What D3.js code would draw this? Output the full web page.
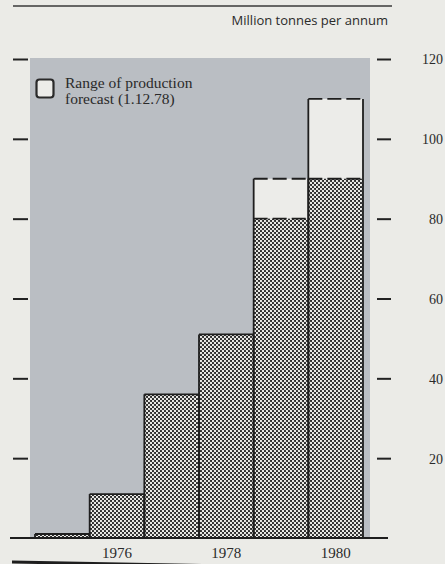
<!DOCTYPE html>
<html>
<head>
<meta charset="utf-8">
<script src="https://cdn.jsdelivr.net/npm/d3@7"></script>
<style>
  body { margin: 0; background: #ebebe7; }
  svg { display: block; }
</style>
</head>
<body>
<script>
const years = ['1975', '1976', '1977', '1978', '1979', '1980']
const production = [1, 11, 36, 51, 80, 90]
const forecastHigh = [null, null, null, null, 90, 110]
const yearLabels = ['1976', '1978', '1980']
const yTicks = [20, 40, 60, 80, 100, 120]
const legendLines = ['Range of production', 'forecast (1.12.78)']

const w = 445
const h = 564

const svg = d3.select('body')
    .append('svg')
    .attr('width', w)
    .attr('height', h)

// crosshatch fill
const pat = svg.append('defs')
    .append('pattern')
    .attr('id', 'hatch')
    .attr('width', 4)
    .attr('height', 4)
    .attr('patternUnits', 'userSpaceOnUse')
pat.append('rect').attr('width', 4).attr('height', 4).attr('fill', '#2b2b2b')
pat.append('circle').attr('cx', 1).attr('cy', 1).attr('r', 1.15).attr('fill', '#f2f2ee')
pat.append('circle').attr('cx', 3).attr('cy', 3).attr('r', 1.15).attr('fill', '#f2f2ee')

const x = d3.scaleBand()
    .domain(years)
    .range([35, 363])
    .padding(0)

const y = d3.scaleLinear()
    .domain([0, 120])
    .range([538, 59])

// header
svg.append('line')
    .attr('x1', 13).attr('x2', 392)
    .attr('y1', 6).attr('y2', 6)
    .attr('stroke', '#3a3a3a')
    .attr('stroke-width', 1.6)

svg.append('text')
    .attr('x', 388)
    .attr('y', 25)
    .attr('text-anchor', 'end')
    .style('font-family', '"Open Sans", sans-serif')
    .style('font-size', '13px')
    .attr('fill', '#2a2a2a')
    .text('Million tonnes per annum')

// grey panel
svg.append('rect')
    .attr('x', 30)
    .attr('y', y(120) - 1)
    .attr('width', 340)
    .attr('height', y(0) - y(120) + 1)
    .attr('fill', '#babec3')

// axes (ticks only)
const leftAxis = d3.axisLeft(y).tickValues(yTicks).tickSize(15).tickFormat('')
const rightAxis = d3.axisRight(y).tickValues(yTicks).tickSize(14)

svg.append('g')
    .attr('transform', 'translate(28, 0)')
    .call(leftAxis)
    .call(g => g.select('.domain').remove())
    .call(g => g.selectAll('line').attr('stroke', '#222').attr('stroke-width', 2))

svg.append('g')
    .attr('transform', 'translate(377, 0)')
    .call(rightAxis)
    .call(g => g.select('.domain').remove())
    .call(g => g.selectAll('line').attr('stroke', '#222').attr('stroke-width', 2))
    .call(g => g.selectAll('text')
        .attr('x', 66)
        .attr('dy', '0.35em')
        .attr('text-anchor', 'end')
        .attr('fill', '#2a2a2a')
        .style('font-family', '"Liberation Serif", serif')
        .style('font-size', '14px'))

const data = years.map((yr, i) => ({ year: yr, value: production[i], high: forecastHigh[i] }))

// forecast range boxes
const fc = data.filter(d => d.high != null)

svg.selectAll('rect.forecast')
    .data(fc)
    .enter()
    .append('rect')
    .attr('class', 'forecast')
    .attr('x', d => x(d.year))
    .attr('y', d => y(d.high))
    .attr('width', x.bandwidth())
    .attr('height', d => y(d.value) - y(d.high))
    .attr('fill', '#ecece9')

// production bars
svg.selectAll('rect.bar')
    .data(data)
    .enter()
    .append('rect')
    .attr('class', 'bar')
    .attr('x', d => x(d.year))
    .attr('y', d => y(d.value))
    .attr('width', x.bandwidth())
    .attr('height', d => y(0) - y(d.value))
    .attr('fill', 'url(#hatch)')

// outlines: solid sides and tops, dashed where forecast
const outline = svg.append('g')
    .attr('stroke', '#1e1e1e')
    .attr('stroke-width', 1.8)
    .attr('fill', 'none')

data.forEach(d => {
    const x0 = x(d.year)
    const x1 = x0 + x.bandwidth()
    const top = d.high != null ? d.high : d.value
    outline.append('line')
        .attr('x1', x0).attr('x2', x0)
        .attr('y1', y(0)).attr('y2', y(top))
    outline.append('line')
        .attr('x1', x1).attr('x2', x1)
        .attr('y1', y(0)).attr('y2', y(top))
    outline.append('line')
        .attr('x1', x0).attr('x2', x1)
        .attr('y1', y(d.value)).attr('y2', y(d.value))
        .attr('stroke-dasharray', d.high != null ? '14 5' : null)
    if (d.high != null) {
        outline.append('line')
            .attr('x1', x0).attr('x2', x1)
            .attr('y1', y(d.high)).attr('y2', y(d.high))
            .attr('stroke-dasharray', '14 5')
    }
})

// baseline
svg.append('line')
    .attr('x1', 10).attr('x2', 388)
    .attr('y1', y(0)).attr('y2', y(0))
    .attr('stroke', '#1e1e1e')
    .attr('stroke-width', 2)

// year labels
svg.selectAll('text.year')
    .data(yearLabels)
    .enter()
    .append('text')
    .attr('class', 'year')
    .attr('x', d => x(d) + x.bandwidth() / 2)
    .attr('y', 558)
    .attr('text-anchor', 'middle')
    .attr('fill', '#2a2a2a')
    .style('font-family', '"Liberation Serif", serif')
    .style('font-size', '15px')
    .text(d => d)

// legend
svg.append('rect')
    .attr('x', 36.5).attr('y', 79.5)
    .attr('width', 17).attr('height', 18)
    .attr('rx', 3)
    .attr('fill', '#ecece9')
    .attr('stroke', '#2a2a2a')
    .attr('stroke-width', 2.2)

svg.selectAll('text.legend')
    .data(legendLines)
    .enter()
    .append('text')
    .attr('class', 'legend')
    .attr('x', 65)
    .attr('y', (d, i) => 88 + i * 16)
    .attr('fill', '#2a2a2a')
    .style('font-family', '"Liberation Serif", serif')
    .style('font-size', '15.5px')
    .text(d => d)

// cut-off rule at bottom edge
svg.append('line')
    .attr('x1', 12).attr('x2', 392)
    .attr('y1', 562).attr('y2', 569)
    .attr('stroke', '#1e1e1e')
    .attr('stroke-width', 3)
</script>
</body>
</html>
